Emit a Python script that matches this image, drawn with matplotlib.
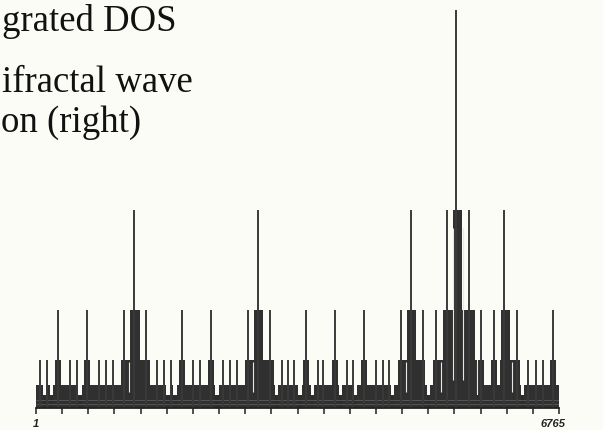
import matplotlib

matplotlib.use("Agg")
import matplotlib.pyplot as plt
import numpy as np

# 図のサイズ (603x430 px)
FIG_W, FIG_H, DPI = 6.03, 4.30, 100

BG_COLOR = "#fcfcf7"
BAND_COLOR = "#2c2c2c"
BLOCK_COLOR = "#303030"
SPIKE_COLOR = "#3a3a3a"

# サイト番号 (1..6765) と振幅レベル
N_SITES = 6765
LEVEL_HEIGHTS = [398, 198, 98, 48, 23, 13]

# 細いスパイク (レベル別の位置)
SPIKES_L0 = [5432]
SPIKES_L1 = [1268, 2872, 4851, 5316, 5601, 6054]
SPIKES_L2 = [286, 661, 1139, 1424, 1889, 2264, 2743, 3027, 3493, 3868,
             4243, 4722, 5006, 5174, 5756, 5924, 6222, 6688]
SPIKES_L3 = [53, 143, 441, 531, 816, 906, 997, 1566, 1656, 1747, 2031, 2122,
             2419, 2510, 2600, 3182, 3260, 3338, 3648, 3713, 4023, 4101,
             4398, 4489, 4566, 6364, 6468, 6558]

# 塗りつぶしブロック (開始サイト, 終了サイト)
BLOCKS_L1 = [(5394, 5510)]
BLOCKS_L2 = [(1217, 1346), (2820, 2937), (4799, 4915), (5264, 5678),
             (6015, 6131)]
BLOCKS_L3 = [(247, 324), (622, 700), (1100, 1475), (1850, 1928),
             (2225, 2303), (2704, 3079), (3454, 3532), (3829, 3907),
             (4204, 4282), (4683, 5032), (5135, 5704), (5717, 5795),
             (5885, 5963), (6002, 6260), (6649, 6727)]
BLOCKS_L4 = [(1, 92), (130, 182), (221, 544), (596, 1682), (1734, 1773),
             (1825, 2316), (2368, 3092), (3131, 3389), (3441, 3557),
             (3596, 3919), (3958, 4114), (4153, 4592), (4631, 5058),
             (5097, 5704), (5743, 6273), (6312, 6765)]
BLOCKS_L5 = [(1, 6765)]

# ブロック内に見える白い切れ目 (サイト, 下端, 上端)
WHITE_CUTS = [(1204, 16, 46), (2808, 16, 46), (4786, 16, 46),
              (5239, 16, 46), (5394, 28, 180), (5529, 28, 180),
              (5704, 16, 46), (6157, 16, 46)]

TICK_LABELS = ["1", "6765"]

# 左上に残っている本文テキスト (右端x, ベースラインy [px])
CAPTION_LINES = [
    ("grated DOS", 176, 31),
    ("ifractal wave", 193, 92),
    ("on (right)", 141, 132),
]


def draw_blocks(ax, blocks, height, color=BLOCK_COLOR):
    starts = [b[0] for b in blocks]
    widths = [b[1] - b[0] for b in blocks]
    ax.bar(starts, height, width=widths, align="edge", color=color,
           linewidth=0)


def main():
    fig = plt.figure(figsize=(FIG_W, FIG_H), dpi=DPI, facecolor=BG_COLOR)

    # 軸: x=36..559 px, 基線 y=408 px, 上端 y=10 px
    ax = fig.add_axes([36 / 603, 22 / 430, 523 / 603, 398 / 430])
    ax.set_facecolor(BG_COLOR)

    draw_blocks(ax, BLOCKS_L5, LEVEL_HEIGHTS[5], color=BAND_COLOR)
    # スキャンっぽい横筋
    ax.hlines([4, 8], 1, N_SITES, color="#5a5a5a", linewidth=0.6)

    draw_blocks(ax, BLOCKS_L4, LEVEL_HEIGHTS[4])
    draw_blocks(ax, BLOCKS_L3, LEVEL_HEIGHTS[3])
    draw_blocks(ax, BLOCKS_L2, LEVEL_HEIGHTS[2])
    draw_blocks(ax, BLOCKS_L1, LEVEL_HEIGHTS[1])

    cut_x = [c[0] for c in WHITE_CUTS]
    cut_lo = [c[1] for c in WHITE_CUTS]
    cut_hi = [c[2] for c in WHITE_CUTS]
    ax.vlines(cut_x, cut_lo, cut_hi, color="#e8e8e2", linewidth=0.8)

    for level, sites in enumerate([SPIKES_L0, SPIKES_L1, SPIKES_L2, SPIKES_L3]):
        ax.vlines(sites, 0, LEVEL_HEIGHTS[level], color=SPIKE_COLOR,
                  linewidth=1.4, clip_on=False)

    ax.set_xlim(1, N_SITES)
    ax.set_ylim(0, LEVEL_HEIGHTS[0])
    for side in ["top", "right", "left"]:
        ax.spines[side].set_visible(False)
    ax.spines["bottom"].set_linewidth(1.3)
    ax.spines["bottom"].set_color("#222222")
    ax.set_yticks([])
    ax.set_xticks(np.linspace(1, N_SITES, 21))
    ax.set_xticklabels([])
    ax.tick_params(axis="x", direction="out", length=4.5, width=1.1,
                   color="#222222")

    label_font = dict(family="Liberation Sans", fontsize=8, fontweight="bold",
                      style="italic", color="#222222", va="top")
    ax.text(1, -11, TICK_LABELS[0], ha="center", **label_font)
    ax.text(6688, -11, TICK_LABELS[1], ha="center", **label_font)

    for text, x_px, y_px in CAPTION_LINES:
        fig.text(x_px / 603, 1 - y_px / 430, text, ha="right", va="baseline",
                 family="Liberation Serif", fontsize=26.5, color="#111111")

    fig.savefig("out.png", dpi=DPI, facecolor=BG_COLOR)
    plt.close(fig)


if __name__ == "__main__":
    main()
